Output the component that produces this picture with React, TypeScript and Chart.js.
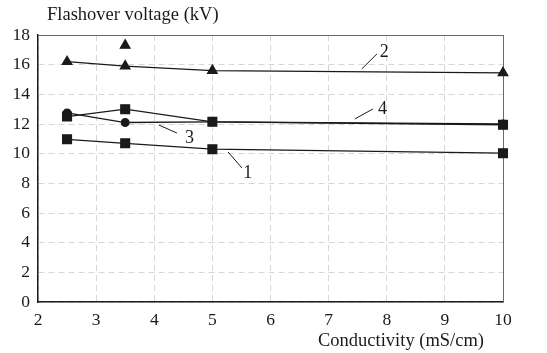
import React, { useEffect, useRef } from "react";
import { Chart, registerables } from "chart.js";

Chart.register(...registerables);

const conductivity = [2.5, 3.5, 5, 10];
const series1 = [10.97, 10.7, 10.3, 10.03];
const series2 = [16.2, 15.9, 15.6, 15.45];
const series3 = [12.75, 12.1, 12.15, 12.0];
const series4 = [12.5, 13.0, 12.15, 11.95];
const outlierX = [3.5];
const outlierY = [17.3];

const xTicks = [2, 3, 4, 5, 6, 7, 8, 9, 10];
const yTicks = [0, 2, 4, 6, 8, 10, 12, 14, 16, 18];

const yTitle = "Flashover voltage (kV)";
const xTitle = "Conductivity (mS/cm)";

// curve labels: text, leader line from (x1,y1) to (x2,y2), text at (tx,ty) in data units
const curveLabels = [
  { text: "2", x1: 7.57, y1: 15.71, x2: 7.83, y2: 16.72, tx: 7.88, ty: 16.85 },
  { text: "4", x1: 7.45, y1: 12.34, x2: 7.76, y2: 13.01, tx: 7.85, ty: 13.01 },
  { text: "3", x1: 4.08, y1: 11.93, x2: 4.39, y2: 11.39, tx: 4.53, ty: 11.06 },
  { text: "1", x1: 5.27, y1: 10.11, x2: 5.51, y2: 9.03, tx: 5.53, ty: 8.7 },
];

const FONT = "'Liberation Serif', 'Times New Roman', serif";
const INK = "#1a1a1a";

const pts = (ys: number[], xs: number[] = conductivity) =>
  xs.map((x, i) => ({ x, y: ys[i] }));

const overlay = {
  id: "overlay",
  beforeDatasetsDraw(chart: any) {
    const { ctx, chartArea } = chart;
    ctx.save();
    ctx.strokeStyle = "#6a6a6a";
    ctx.lineWidth = 1;
    ctx.beginPath();
    ctx.moveTo(chartArea.left, chartArea.top + 0.5);
    ctx.lineTo(chartArea.right, chartArea.top + 0.5);
    ctx.moveTo(chartArea.right + 0.5, chartArea.top);
    ctx.lineTo(chartArea.right + 0.5, chartArea.bottom);
    ctx.stroke();
    ctx.restore();
  },
  afterDraw(chart: any) {
    const { ctx, chartArea, scales } = chart;
    const xs = scales.x;
    const ys = scales.y;
    ctx.save();
    ctx.strokeStyle = INK;
    ctx.fillStyle = INK;
    ctx.lineWidth = 1;
    ctx.font = `18px ${FONT}`;
    ctx.textBaseline = "middle";
    ctx.textAlign = "left";
    for (const l of curveLabels) {
      ctx.beginPath();
      ctx.moveTo(xs.getPixelForValue(l.x1), ys.getPixelForValue(l.y1));
      ctx.lineTo(xs.getPixelForValue(l.x2), ys.getPixelForValue(l.y2));
      ctx.stroke();
      ctx.fillText(l.text, xs.getPixelForValue(l.tx), ys.getPixelForValue(l.ty));
    }

    ctx.font = `18.5px ${FONT}`;
    ctx.textBaseline = "alphabetic";
    ctx.textAlign = "left";
    ctx.fillText(yTitle, chartArea.left + 9, chartArea.top - 15);
    ctx.textAlign = "right";
    ctx.fillText(xTitle, chartArea.right - 19, chartArea.bottom + 44);
    ctx.restore();
  },
};

export default function App() {
  const ref = useRef<HTMLCanvasElement | null>(null);
  useEffect(() => {
    if (!ref.current) return;
    const lineStyle = {
      borderColor: INK,
      backgroundColor: INK,
      pointBackgroundColor: INK,
      pointBorderColor: INK,
      borderWidth: 1.3,
      showLine: true,
      tension: 0,
      clip: false,
    };
    const chart = new Chart(ref.current, {
      type: "scatter",
      data: {
        datasets: [
          { ...lineStyle, label: "1", data: pts(series1), pointStyle: "rect", pointRadius: 6.2 },
          { ...lineStyle, label: "2", data: pts(series2), pointStyle: "triangle", pointRadius: 5.5 },
          { ...lineStyle, label: "3", data: pts(series3), pointStyle: "circle", pointRadius: 3.8 },
          { ...lineStyle, label: "4", data: pts(series4), pointStyle: "rect", pointRadius: 6.2 },
          { ...lineStyle, label: "2*", data: pts(outlierY, outlierX), showLine: false, pointStyle: "triangle", pointRadius: 5.5 },
        ],
      },
      options: {
        animation: false,
        responsive: false,
        maintainAspectRatio: false,
        layout: { padding: { left: 0, top: 35, right: 44, bottom: 0 } },
        plugins: { legend: { display: false }, tooltip: { enabled: false } },
        scales: {
          x: {
            type: "linear",
            min: 2,
            max: 10,
            afterFit: (s: any) => { s.height = 51; },
            afterBuildTicks: (s: any) => { s.ticks = xTicks.map((v) => ({ value: v })); },
            ticks: { color: INK, font: { family: FONT, size: 17.5 }, padding: 8, maxRotation: 0 },
            grid: { color: "#d6d6d6", drawTicks: false, tickLength: 0 },
            border: { display: true, color: INK, width: 1.5, dash: [6, 4] },
          },
          y: {
            type: "linear",
            min: 0,
            max: 18,
            afterFit: (s: any) => { s.width = 38; },
            afterBuildTicks: (s: any) => { s.ticks = yTicks.map((v) => ({ value: v })); },
            ticks: { color: INK, font: { family: FONT, size: 17.5 }, padding: 8 },
            grid: { color: "#d6d6d6", drawTicks: false, tickLength: 0 },
            border: { display: true, color: INK, width: 1.5, dash: [6, 4] },
          },
        },
      },
      plugins: [overlay],
    } as any);
    return () => chart.destroy();
  }, []);
  return (
    <div style={{ position: "fixed", left: 0, top: 0, width: 547, height: 353, background: "#fff" }}>
      <canvas ref={ref} width={547} height={353} style={{ display: "block" }} />
    </div>
  );
}
